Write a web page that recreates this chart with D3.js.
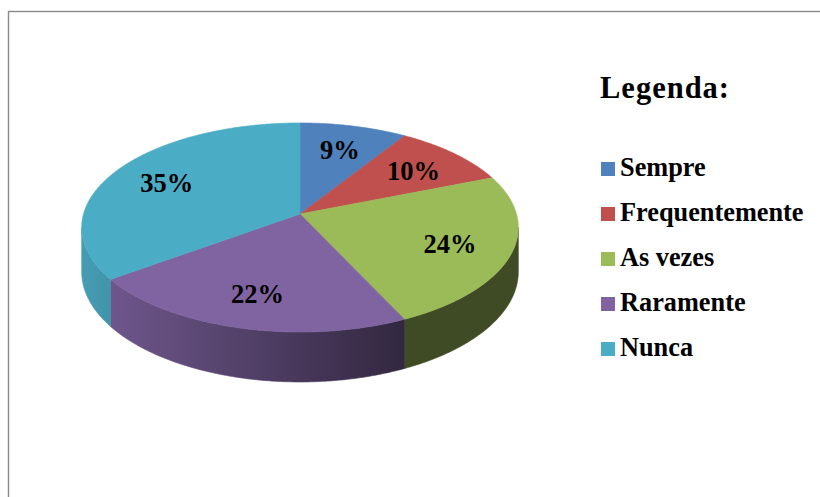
<!DOCTYPE html>
<html>
<head>
<meta charset="utf-8">
<script src="https://cdn.jsdelivr.net/npm/d3@7"></script>
<style>
  html, body { margin: 0; padding: 0; background: #fff; }
  svg { display: block; }
  text { font-family: "Liberation Serif", "Times New Roman", serif; font-weight: bold; fill: #000; }
</style>
</head>
<body>
<svg id="chart" width="820" height="497"></svg>
<script>
// data
const categories = ["Sempre", "Frequentemente", "As vezes", "Raramente", "Nunca"];
const values = [9, 10, 24, 22, 35];
const colors = ["#4f81bd", "#c0504d", "#9bbb59", "#8064a2", "#4bacc6"];
const legendTitle = "Legenda:";

const svg = d3.select("#chart");

// frame (only top and left edges are inside the picture)
svg.append("rect")
  .attr("x", 8.5).attr("y", 11.5)
  .attr("width", 840).attr("height", 520)
  .attr("fill", "none")
  .attr("stroke", "#898989")
  .attr("stroke-width", 1.4);

// pie geometry with a little perspective (front is nearer)
const cx = 300, cy = 214;
const A = 216.5, B = 102.8, k = 0.129, depth = 43.5;

function project(angle, f, dz) {
  const u = f * Math.sin(angle);
  const v = -f * Math.cos(angle);
  const den = 1 - k * v;
  return [cx + A * u / den, cy + (B * v + (dz || 0)) / den];
}

const color = d3.scaleOrdinal().domain(categories).range(colors);

const pie = d3.pie().sort(null).value(d => d.value);
const arcs = pie(categories.map((c, i) => ({ name: c, value: values[i] })));

const line = d3.line();

function sample(a0, a1, f, dz) {
  const n = Math.max(2, Math.ceil(Math.abs(a1 - a0) / 0.01));
  return d3.range(n + 1).map(i => project(a0 + (a1 - a0) * i / n, f, dz));
}

// side shading: lighter to the left, darker to the right
const defs = svg.append("defs");
arcs.forEach((d, i) => {
  const base = d3.rgb(color(d.data.name));
  const shade = s => d3.rgb(base.r * s, base.g * s, base.b * s).formatHex();
  const g = defs.append("linearGradient")
    .attr("id", "side-" + i)
    .attr("gradientUnits", "userSpaceOnUse")
    .attr("x1", 85).attr("x2", 400).attr("y1", 0).attr("y2", 0);
  g.append("stop").attr("offset", 0).attr("stop-color", shade(0.9));
  g.append("stop").attr("offset", 1).attr("stop-color", shade(0.4));
});

// visible front side runs between the two silhouette angles
const sil0 = Math.acos(-k), sil1 = 2 * Math.PI - Math.acos(-k);

const sides = svg.append("g");
arcs.forEach((d, i) => {
  const a0 = Math.max(d.startAngle, sil0);
  const a1 = Math.min(d.endAngle, sil1);
  if (a1 <= a0) return;
  const pts = sample(a0, a1, 1, 0).concat(sample(a1, a0, 1, depth));
  sides.append("path")
    .attr("d", line(pts) + "Z")
    .attr("fill", "url(#side-" + i + ")")
    .attr("stroke", "url(#side-" + i + ")")
    .attr("stroke-width", 0.6);
});

// top faces
const tops = svg.append("g");
arcs.forEach(d => {
  const pts = [project(0, 0)].concat(sample(d.startAngle, d.endAngle, 1, 0));
  tops.append("path")
    .attr("d", line(pts) + "Z")
    .attr("fill", color(d.data.name))
    .attr("stroke", color(d.data.name))
    .attr("stroke-width", 0.6);
});

// percentage labels
const labelAt = d => project((d.startAngle + d.endAngle) / 2, 0.72);
svg.append("g").selectAll("text")
  .data(arcs)
  .join("text")
  .attr("x", d => labelAt(d)[0])
  .attr("y", d => labelAt(d)[1])
  .attr("dy", "0.4em")
  .attr("text-anchor", "middle")
  .attr("font-size", 26.5)
  .text(d => d.data.value + "%");

// legend
svg.append("text")
  .attr("x", 600).attr("y", 98)
  .attr("font-size", 30.5)
  .attr("letter-spacing", 1)
  .text(legendTitle);

const ly = d3.scalePoint().domain(categories).range([162, 342]);

const items = svg.append("g").selectAll("g")
  .data(categories)
  .join("g")
  .attr("transform", d => "translate(601," + ly(d) + ")");

items.append("rect")
  .attr("width", 14).attr("height", 14)
  .attr("fill", d => color(d));

items.append("text")
  .attr("x", 19).attr("y", 14)
  .attr("font-size", 26.3)
  .text(d => d);
</script>
</body>
</html>
